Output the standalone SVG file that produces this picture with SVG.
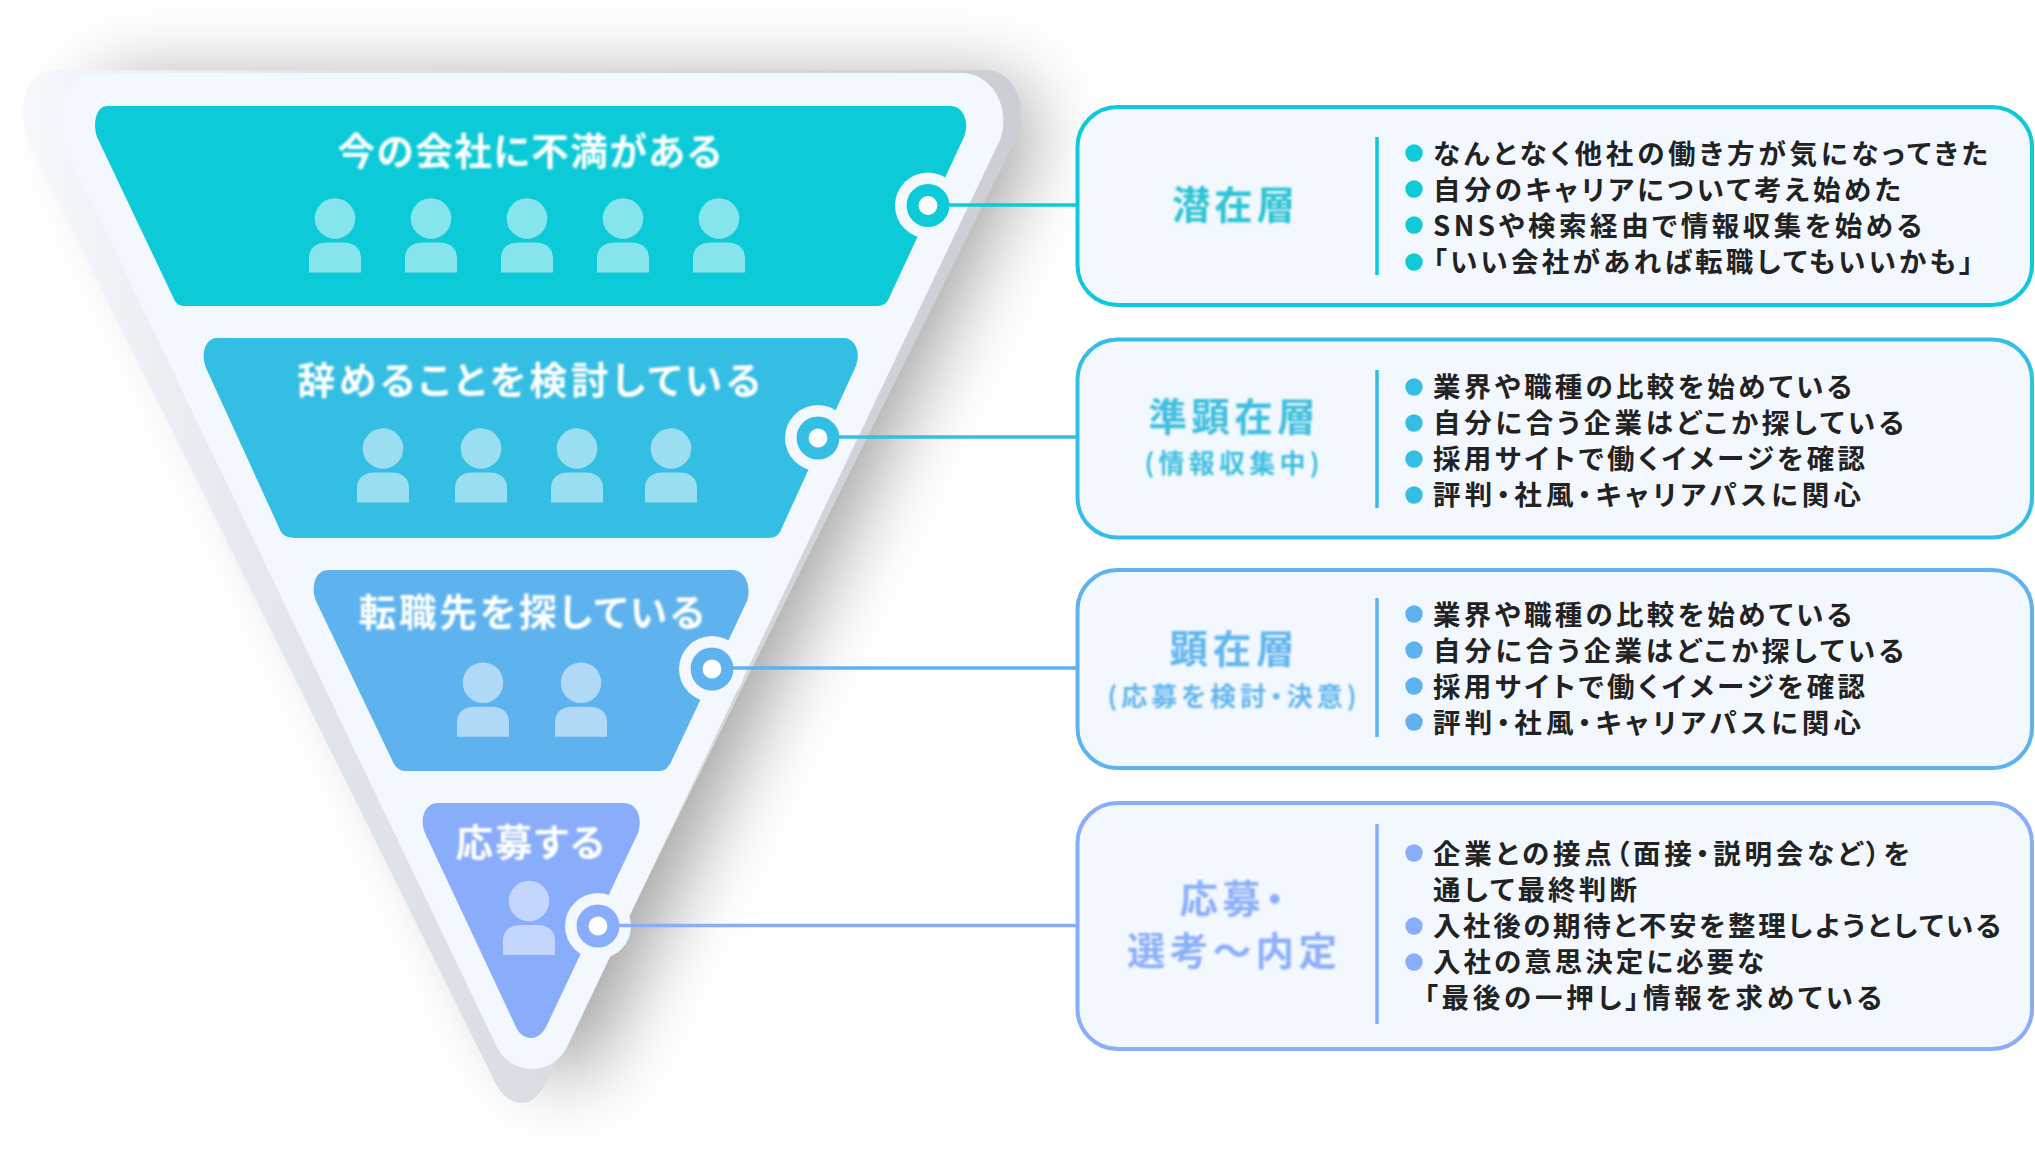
<svg xmlns="http://www.w3.org/2000/svg" width="2035" height="1163" viewBox="0 0 2035 1163">
<defs>
<style>
text{font-family:"Noto Sans CJK JP","Noto Sans",sans-serif;font-feature-settings:"palt"}
.t{font-size:37.5px;font-weight:700;fill:#fff;text-anchor:middle;filter:url(#soft)}
.b{font-size:27.5px;font-weight:700;fill:#222}
.h{font-size:38.5px;font-weight:700;text-anchor:middle;filter:url(#soft)}
.s{font-size:26px;font-weight:700;text-anchor:middle;filter:url(#soft)}
.box{fill:#f3f8ff;stroke-width:4}
.halo{fill:#f3f8ff}
.ring{fill:#fff;stroke-width:12}
.p{fill:#fff;fill-opacity:.5}
.c1{fill:#0ccad8}.c2{fill:#35bee3}.c3{fill:#5eb3ef}.c4{fill:#89acfb}
.s1{stroke:#0ccad8}.s2{stroke:#35bee3}.s3{stroke:#5eb3ef}.s4{stroke:#89acfb}
.k1{fill:#2fc4d3}.k2{fill:#3fc0df}.k3{fill:#62b6ef}.k4{fill:#8db0fb}
#connectors line{stroke-width:3.5}
.div{stroke-width:3.5}
</style>
<filter id="soft" x="-5%" y="-20%" width="110%" height="140%"><feGaussianBlur stdDeviation="0.9"/></filter>
<filter id="shadow" x="-30%" y="-30%" width="160%" height="160%"><feGaussianBlur stdDeviation="38"/></filter>
<linearGradient id="back" x1="0" y1="0" x2="1" y2="0"><stop offset="0" stop-color="#f5f8fc"/><stop offset=".3" stop-color="#e0e5eb"/><stop offset="1" stop-color="#cbced3"/></linearGradient>
<symbol id="person" overflow="visible"><circle cx="0" cy="0" r="20.3" class="p"/><path class="p" d="M-26 54V40C-26 27-16 24-8 24H8C16 24 26 27 26 40V54Z"/></symbol>
</defs>
<rect width="2035" height="1163" fill="#fff"/>
<g id="funnel">
<path d="M100 73H962C990 73 1012 105 1000 140L568 1045C560 1062 546 1069 532 1069C518 1069 504 1062 496 1045L62 140C50 105 72 73 100 73Z" transform="translate(30 8)" fill="#000" fill-opacity=".36" filter="url(#shadow)"/>
<path d="M55 70H985C1012 70 1028 100 1018 135L549 1076C540 1096 531 1103 522 1103C512 1103 500 1096 492 1076L28 140C15 100 30 70 55 70Z" fill="url(#back)"/>
<path d="M100 73H962C990 73 1012 105 1000 140L568 1045C560 1062 546 1069 532 1069C518 1069 504 1062 496 1045L62 140C50 105 72 73 100 73Z" fill="#f3f8ff"/>
</g>
<g id="tier1">
<path class="c1" d="M107 106H951C963 106 970 122 964 137L889.5 297C888 302 884 306 877 306H184C178 306 175 302 173 297L97 137C92 122 97 106 107 106Z"/>
<text class="t" x="529.5" y="165" textLength="384">今の会社に不満がある</text>
<use href="#person" x="335" y="218.5"/><use href="#person" x="431" y="218.5"/><use href="#person" x="527" y="218.5"/><use href="#person" x="623" y="218.5"/><use href="#person" x="719" y="218.5"/>
<circle class="halo" cx="928" cy="205.5" r="33"/><circle class="ring s1" cx="928" cy="205.5" r="15.4"/>
</g>
<g id="tier2">
<path class="c2" d="M217 338H844C855 338 862 353 855 368L780 532C778 535 775 538 767 538H295C288 538 283 535 281 532L206 368C200 353 206 338 217 338Z"/>
<text class="t" x="529" y="394" textLength="463">辞めることを検討している</text>
<use href="#person" x="383" y="448.5"/><use href="#person" x="481" y="448.5"/><use href="#person" x="577" y="448.5"/><use href="#person" x="671" y="448.5"/>
<circle class="halo" cx="818" cy="438" r="33"/><circle class="ring s2" cx="818" cy="438" r="15.4"/>
</g>
<g id="tier3">
<path class="c3" d="M328 570H733C745 570 752 586 747 601L672 760C670 765 666 771 660 771H405C398 771 394 765 392 760L316 601C310 586 316 570 328 570Z"/>
<text class="t" x="531.5" y="626" textLength="346">転職先を探している</text>
<use href="#person" x="483" y="682.7"/><use href="#person" x="581" y="682.7"/>
<circle class="halo" cx="712" cy="669" r="33"/><circle class="ring s3" cx="712" cy="669" r="15.4"/>
</g>
<g id="tier4">
<path class="c4" d="M438 803H624C637 803 643 818 638 833L546 1027C542 1034 537 1038 531 1038C525 1038 519 1034 516 1027L425 833C419 818 425 803 438 803Z"/>
<text class="t" x="530" y="856" textLength="149">応募する</text>
<use href="#person" x="529" y="901"/>
<circle class="halo" cx="598" cy="926" r="33"/><circle class="ring s4" cx="598" cy="926" r="15.4"/>
</g>
<g id="connectors">
<line class="s1" x1="949" y1="205" x2="1077" y2="205"/>
<line class="s2" x1="839" y1="437" x2="1077" y2="437"/>
<line class="s3" x1="733" y1="668" x2="1077" y2="668"/>
<line class="s4" x1="619" y1="925.5" x2="1077" y2="925.5"/>
</g>
<g id="box1">
<rect class="box s1" x="1077.5" y="107" width="954.5" height="198" rx="40"/>
<text class="h k1" x="1233.5" y="219" textLength="123">潜在層</text>
<line class="div s1" x1="1377" y1="137" x2="1377" y2="275"/>
<circle class="c1" cx="1414" cy="153" r="8.7"/><circle class="c1" cx="1414" cy="189" r="8.7"/><circle class="c1" cx="1414" cy="225" r="8.7"/><circle class="c1" cx="1414" cy="262" r="8.7"/>
<text class="b" x="1433" y="164" textLength="555">なんとなく他社の働き方が気になってきた</text>
<text class="b" x="1433" y="200" textLength="468">自分のキャリアについて考え始めた</text>
<text class="b" x="1433" y="236" textLength="489">SNSや検索経由で情報収集を始める</text>
<text class="b" x="1433" y="272" textLength="540">「いい会社があれば転職してもいいかも」</text>
</g>
<g id="box2">
<rect class="box s2" x="1077.5" y="339.5" width="954.5" height="198" rx="40"/>
<text class="h k2" x="1232" y="431" textLength="167">準顕在層</text>
<text class="s k2" x="1232" y="473" textLength="175">(情報収集中)</text>
<line class="div s2" x1="1377" y1="370" x2="1377" y2="508"/>
<circle class="c2" cx="1414" cy="387" r="8.7"/><circle class="c2" cx="1414" cy="423" r="8.7"/><circle class="c2" cx="1414" cy="459" r="8.7"/><circle class="c2" cx="1414" cy="495" r="8.7"/>
<text class="b" x="1433" y="397" textLength="419">業界や職種の比較を始めている</text>
<text class="b" x="1433" y="433" textLength="471">自分に合う企業はどこか探している</text>
<text class="b" x="1433" y="469" textLength="432">採用サイトで働くイメージを確認</text>
<text class="b" x="1433" y="505" textLength="428">評判・社風・キャリアパスに関心</text>
</g>
<g id="box3">
<rect class="box s3" x="1077.5" y="570" width="954.5" height="198" rx="40"/>
<text class="h k3" x="1232" y="663" textLength="125">顕在層</text>
<text class="s k3" x="1232" y="706" textLength="249">(応募を検討・決意)</text>
<line class="div s3" x1="1377" y1="598" x2="1377" y2="737"/>
<circle class="c3" cx="1414" cy="614" r="8.7"/><circle class="c3" cx="1414" cy="650" r="8.7"/><circle class="c3" cx="1414" cy="686" r="8.7"/><circle class="c3" cx="1414" cy="722" r="8.7"/>
<text class="b" x="1433" y="625" textLength="419">業界や職種の比較を始めている</text>
<text class="b" x="1433" y="661" textLength="471">自分に合う企業はどこか探している</text>
<text class="b" x="1433" y="697" textLength="432">採用サイトで働くイメージを確認</text>
<text class="b" x="1433" y="733" textLength="428">評判・社風・キャリアパスに関心</text>
</g>
<g id="box4">
<rect class="box s4" x="1077.5" y="803" width="954.5" height="246" rx="40"/>
<text class="h k4" x="1232" y="913" textLength="105">応募・</text>
<text class="h k4" x="1232" y="965" textLength="210">選考～内定</text>
<line class="div s4" x1="1377" y1="824" x2="1377" y2="1024"/>
<circle class="c4" cx="1414" cy="853" r="8.7"/><circle class="c4" cx="1414" cy="926" r="8.7"/><circle class="c4" cx="1414" cy="962" r="8.7"/>
<text class="b" x="1433" y="864" textLength="477">企業との接点（面接・説明会など）を</text>
<text class="b" x="1433" y="900" textLength="204">通して最終判断</text>
<text class="b" x="1433" y="936" textLength="568">入社後の期待と不安を整理しようとしている</text>
<text class="b" x="1433" y="972" textLength="331">入社の意思決定に必要な</text>
<text class="b" x="1424" y="1008" textLength="458">「最後の一押し」情報を求めている</text>
</g>
</svg>
